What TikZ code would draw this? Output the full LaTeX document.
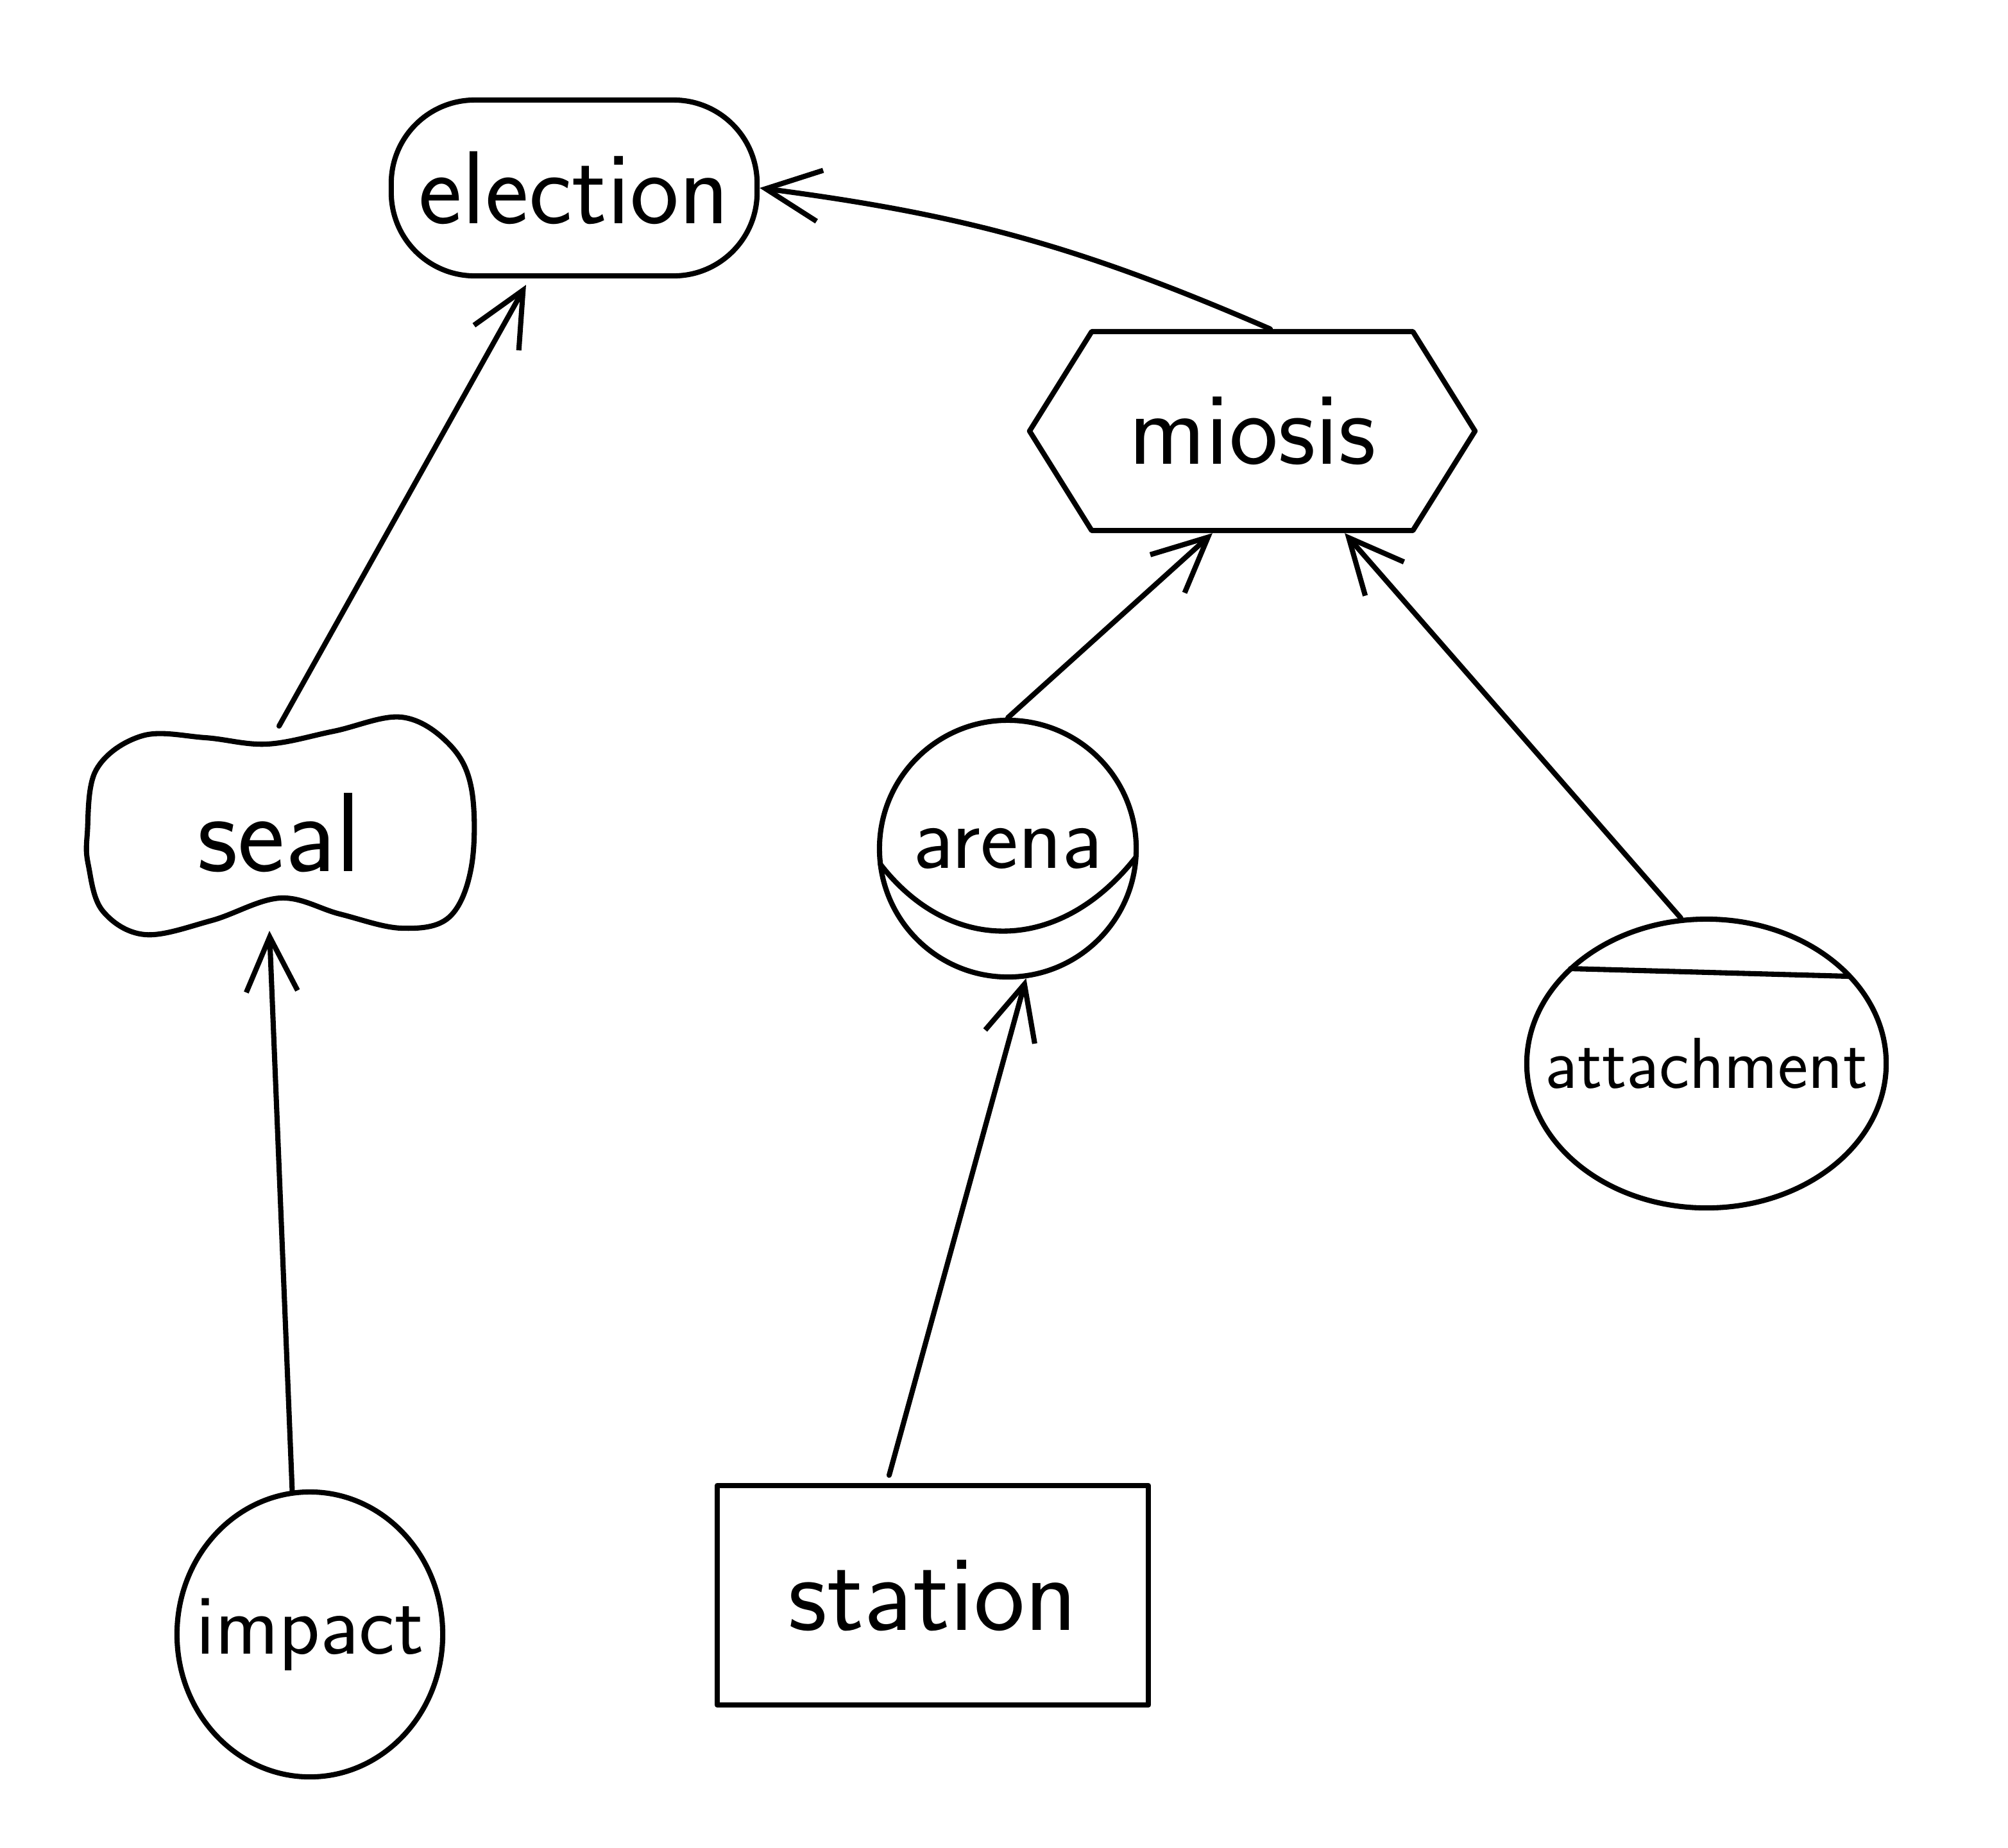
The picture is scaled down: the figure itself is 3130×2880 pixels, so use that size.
\documentclass[tikz,border=0pt]{standalone}
\usepackage{fontspec}
\usetikzlibrary{shapes.geometric,shapes.symbols,arrows.meta}
\begin{document}
\begin{tikzpicture}[x=0.01cm,y=-0.01cm,
  line width=2.3pt, line cap=round, line join=round,
  every node/.style={inner sep=0pt},
  fs/.style={font=\sffamily\fontsize{#1}{#1}\selectfont},
  link/.style={-{Straight Barb[length=0.85cm,width=0.8cm,line width=2.3pt]}}]
\fill[white] (0,0) rectangle (3130,2880);
\useasboundingbox (0,0) rectangle (3130,2880);

% top: stadium-shaped box
\node[draw, rounded corners=1.3cm, minimum width=5.7cm, minimum height=2.74cm, fs=46]
  (election) at (895,293) {election};

% hexagon
\node[draw, signal, signal to=west and east, signal pointer angle=116,
      minimum width=6.94cm, minimum height=3.1cm, fs=46]
  (miosis) at (1952,672) {miosis};

% bone-shaped blob around the label
\node[minimum width=5.9cm, minimum height=3.24cm, fs=50] (seal) at (435,1298) {seal};
\begin{scope}[shift={(seal.center)}]
  \draw plot[smooth cycle, tension=0.6] coordinates {
    (-299,2) (-285,-98) (-213,-151) (-115,-148) (-19,-138) (85,-158)
    (191,-180) (265,-138) (300,-68) (300,52) (265,132) (191,149)
    (95,127) (2,102) (-105,137) (-209,159) (-275,122) (-297,52)};
\end{scope}

% circle with a lower chord
\node[draw, circle, minimum size=4.0cm, fs=40] (arena) at (1571,1323) {arena};
\begin{scope}[shift={(arena.center)}]
  \draw (-199,24) .. controls (-90,165) and (80,165) .. (199,14);
\end{scope}

% ellipse with an upper chord
\node[draw, ellipse, minimum width=5.6cm, minimum height=4.5cm, fs=32]
  (attachment) at (2660,1658) {\makebox[0pt]{attachment}};
\begin{scope}[shift={(attachment.center)}]
  \draw (-212,-148) -- (222,-136);
\end{scope}

% bottom row
\node[draw, ellipse, minimum width=4.14cm, minimum height=4.44cm, fs=38]
  (impact) at (483,2548) {\makebox[0pt]{impact}};
\node[draw, minimum width=6.72cm, minimum height=3.42cm, fs=48]
  (station) at (1454,2487) {station};

% connectors
\draw[link] (impact.97) -- ([xshift=-0.15cm,yshift=0.13cm]seal.south);
\draw[link] (seal.north) -- ([xshift=-0.75cm,yshift=-0.1cm]election.south);
\draw[link] ([xshift=-0.68cm,yshift=0.12cm]station.north) -- (arena.-82);
\draw[link] (arena.north) -- ([xshift=-0.62cm]miosis.south);
\draw[link] (attachment.100) -- ([xshift=1.44cm]miosis.south);
\draw[link] ([xshift=0.28cm]miosis.north) to[bend right=8] (election.east);
\end{tikzpicture}
\end{document}
